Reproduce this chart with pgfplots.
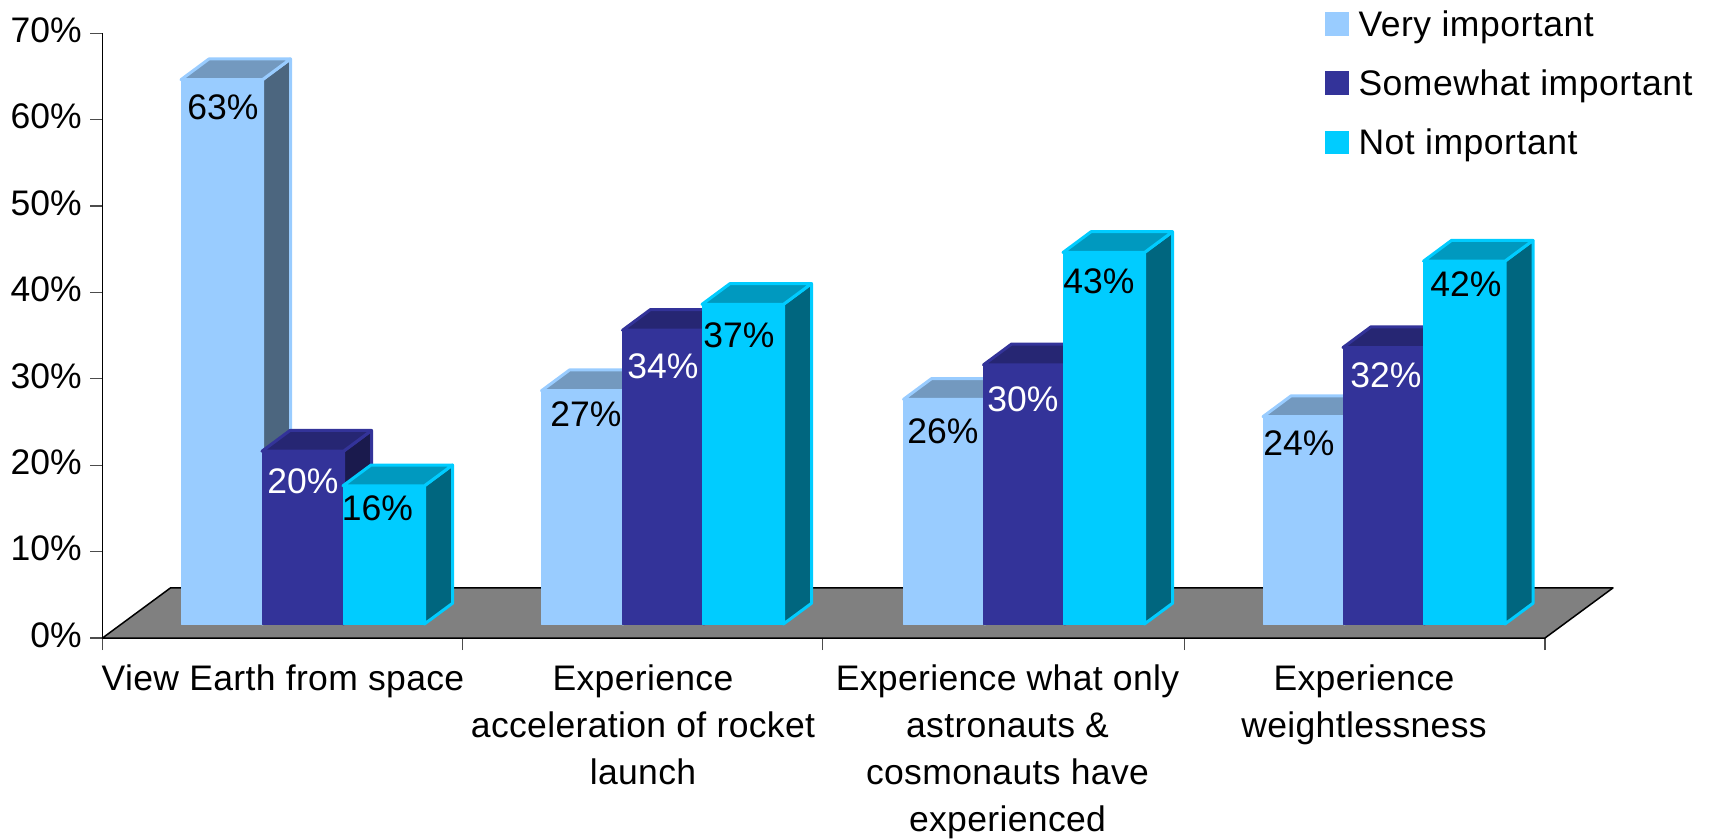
\documentclass[border=0pt]{standalone}
\usepackage{fontspec}
\setmainfont{Liberation Sans}
\usepackage{pgfplots}
\pgfplotsset{compat=1.18}

% Series colours: face, top (shaded) and side (darker)
\definecolor{veryFace}{HTML}{99CCFF}
\definecolor{veryTop}{HTML}{7399BF}
\definecolor{verySide}{HTML}{4C667F}
\definecolor{someFace}{HTML}{333399}
\definecolor{someTop}{HTML}{262673}
\definecolor{someSide}{HTML}{1A1A4D}
\definecolor{notFace}{HTML}{00CCFF}
\definecolor{notTop}{HTML}{0099BF}
\definecolor{notSide}{HTML}{00667F}
\definecolor{floorgrey}{HTML}{808080}

\newcommand{\chartfont}{\fontsize{35.5}{47}\selectfont}

% Oblique column: left edge, value, series name.
% Columns stand on the floor at y = 1.62 and have an oblique depth of (28, 2.4).
\newcommand{\threedbar}[3]{%
  \pgfmathsetmacro{\xl}{#1}%
  \pgfmathsetmacro{\xr}{#1+81.5}%
  \pgfmathsetmacro{\xbl}{#1+28}%
  \pgfmathsetmacro{\xbr}{#1+81.5+28}%
  \pgfmathsetmacro{\yt}{1.62+#2}%
  \pgfmathsetmacro{\ybt}{1.62+#2+2.4}%
  \addplot[forget plot, fill=#3Side, draw=#3Face, line width=3pt, line join=round]
    coordinates {(\xr,1.62) (\xbr,4.02) (\xbr,\ybt) (\xr,\yt)} -- cycle;
  \addplot[forget plot, fill=#3Top, draw=#3Face, line width=3pt, line join=round]
    coordinates {(\xl,\yt) (\xbl,\ybt) (\xbr,\ybt) (\xr,\yt)} -- cycle;
  \addplot[forget plot, fill=#3Face, draw=#3Face, line width=1pt, line join=round]
    coordinates {(\xl,1.62) (\xr,1.62) (\xr,\yt) (\xl,\yt)} -- cycle;
}

\begin{document}
\begin{tikzpicture}
\path[use as bounding box] (0pt,0pt) rectangle (1715pt,838pt);
\begin{axis}[
  at={(102.5pt,200pt)}, anchor=south west,
  scale only axis, width=1442.5pt, height=604.8pt,
  xmin=0, xmax=1442.5, ymin=0, ymax=70,
  clip=false,
  axis x line*=bottom, axis y line*=left,
  axis line style={-, line width=1.3pt, black},
  tick align=outside,
  major tick length=12pt, minor tick length=12pt,
  every tick/.style={black!70, line width=1.3pt},
  ytick={0,10,...,70},
  yticklabels={0\%,10\%,20\%,30\%,40\%,50\%,60\%,70\%},
  yticklabel style={font=\chartfont, yshift=3pt, inner sep=0pt, xshift=-8.5pt},
  xtick={180.5,540.5,905,1261.5},
  major x tick style={draw=none},
  minor xtick={0,360,720,1082,1442.5},
  xticklabels={View Earth from space,
    {Experience\\acceleration of rocket\\launch},
    {Experience what only\\astronauts \&\\cosmonauts have\\experienced},
    {Experience\\weightlessness}},
  xticklabel style={font=\chartfont\addfontfeature{LetterSpace=1}, align=center, anchor=north, inner sep=0pt, yshift=-15pt},
  legend style={at={(0.8452,1.0415)}, anchor=north west, draw=none, fill=none,
    font=\chartfont\addfontfeature{LetterSpace=1.5},
    nodes={inner sep=0pt}, row sep=32pt, column sep=10pt},
  legend cell align=left,
  legend image code/.code={\fill[draw=none,#1] (0pt,-11.8pt) rectangle (23.6pt,11.8pt);},
  no markers,
]
% Floor of the chart
\addplot[forget plot, fill=floorgrey, draw=black, line width=1.5pt, line join=round]
  coordinates {(0,0) (68,5.8) (1510.5,5.8) (1442.5,0)} -- cycle;

% View Earth from space
\threedbar{78.5}{63}{very}
\threedbar{159.5}{20}{some}
\threedbar{240.5}{16}{not}
% Experience acceleration of rocket launch
\threedbar{439}{27}{very}
\threedbar{520}{34}{some}
\threedbar{599.5}{37}{not}
% Experience what only astronauts and cosmonauts have experienced
\threedbar{801}{26}{very}
\threedbar{881}{30}{some}
\threedbar{960.5}{43}{not}
% Experience weightlessness
\threedbar{1160.5}{24}{very}
\threedbar{1240.5}{32}{some}
\threedbar{1321}{42}{not}

\addlegendimage{draw=none,fill=veryFace}\addlegendentry{Very important}
\addlegendimage{draw=none,fill=someFace}\addlegendentry{Somewhat important}
\addlegendimage{draw=none,fill=notFace}\addlegendentry{Not important}

% Value labels
\begin{scope}[every node/.style={font=\chartfont, inner sep=0pt, anchor=center}]
\node[black] at (axis cs:120.5,61.46) {63\%};
\node[white] at (axis cs:200.5,18.17) {20\%};
\node[black] at (axis cs:275,15.05) {16\%};
\node[black] at (axis cs:483.5,25.87) {27\%};
\node[white] at (axis cs:560.5,31.48) {34\%};
\node[black] at (axis cs:636.5,35.07) {37\%};
\node[black] at (axis cs:840.5,23.96) {26\%};
\node[white] at (axis cs:920.5,27.66) {30\%};
\node[black] at (axis cs:996.5,41.32) {43\%};
\node[black] at (axis cs:1196.5,22.57) {24\%};
\node[white] at (axis cs:1283.5,30.44) {32\%};
\node[black] at (axis cs:1363.5,40.97) {42\%};
\end{scope}
\end{axis}
\end{tikzpicture}
\end{document}
